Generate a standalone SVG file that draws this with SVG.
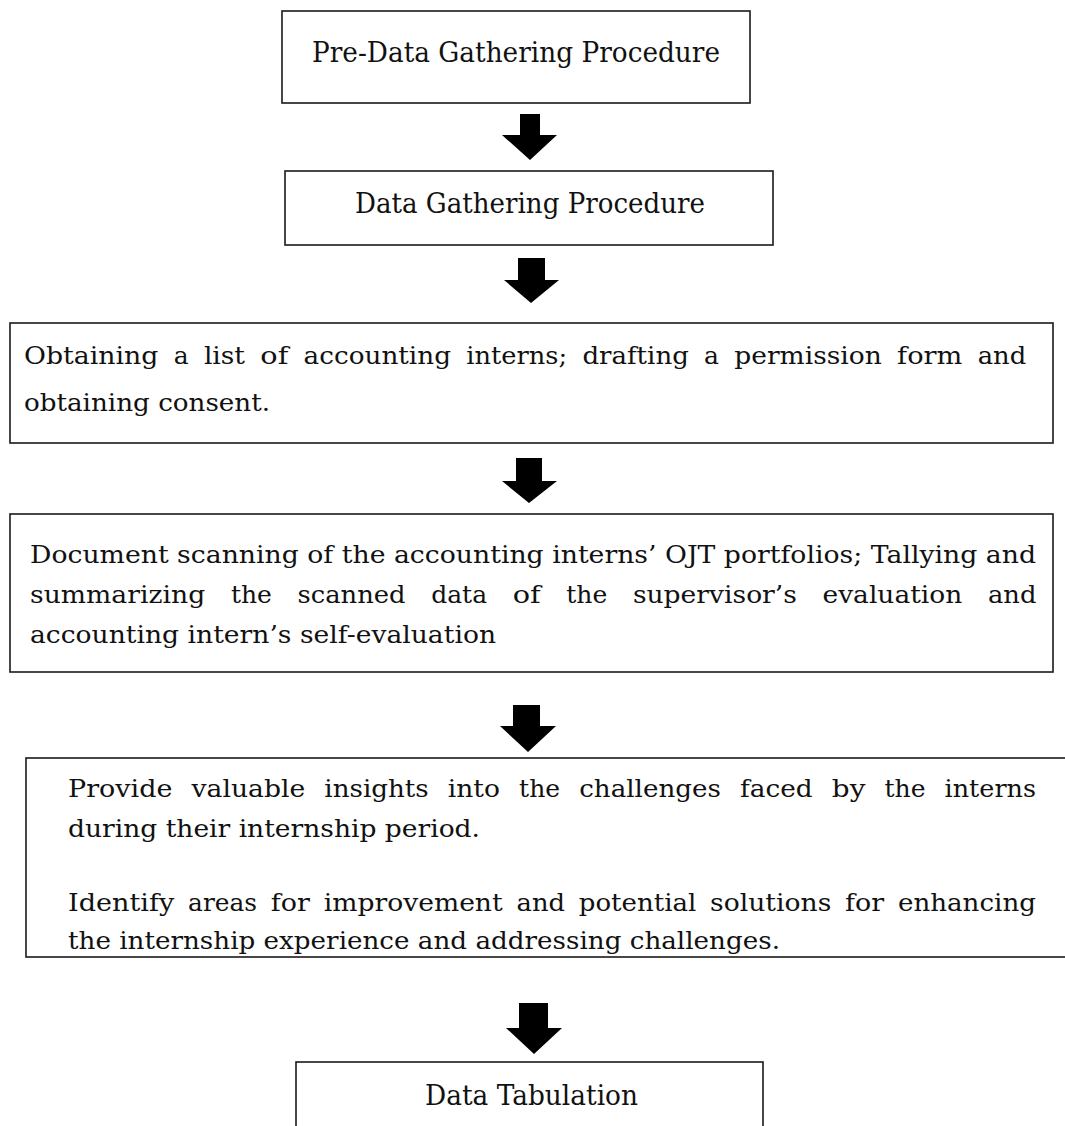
<svg xmlns="http://www.w3.org/2000/svg" width="1065" height="1126" viewBox="0 0 1065 1126">
<style>
.box{fill:#ffffff;stroke:#1a1a1a;stroke-width:1.6}
.t{font-family:"DejaVu Serif","Liberation Serif",serif;fill:#111111}
.title{font-size:27px}
.body{font-size:25px}
.arrow{fill:#000000}
</style>
<rect x="0" y="0" width="1065" height="1126" fill="#ffffff"/>
<g id="node-pre-data">
<rect class="box" x="282" y="11" width="468" height="92"/>
<text class="t title" x="312" y="62" textLength="408" lengthAdjust="spacingAndGlyphs">Pre-Data Gathering Procedure</text>
</g>
<g id="node-data-gathering">
<rect class="box" x="285" y="171" width="488" height="74"/>
<text class="t title" x="355" y="213" textLength="350" lengthAdjust="spacingAndGlyphs">Data Gathering Procedure</text>
</g>
<g id="node-obtaining">
<rect class="box" x="10" y="323" width="1043" height="120"/>
<text class="t body" y="364" lengthAdjust="spacingAndGlyphs"><tspan x="24" textLength="134.4" lengthAdjust="spacingAndGlyphs">Obtaining</tspan> <tspan x="173.7" textLength="14.9" lengthAdjust="spacingAndGlyphs">a</tspan> <tspan x="203.9" textLength="41.1" lengthAdjust="spacingAndGlyphs">list</tspan> <tspan x="260.3" textLength="28" lengthAdjust="spacingAndGlyphs">of</tspan> <tspan x="303.6" textLength="147.4" lengthAdjust="spacingAndGlyphs">accounting</tspan> <tspan x="466.3" textLength="100.8" lengthAdjust="spacingAndGlyphs">interns;</tspan> <tspan x="582.4" textLength="106.4" lengthAdjust="spacingAndGlyphs">drafting</tspan> <tspan x="704.1" textLength="14.9" lengthAdjust="spacingAndGlyphs">a</tspan> <tspan x="734.3" textLength="147.5" lengthAdjust="spacingAndGlyphs">permission</tspan> <tspan x="897.1" textLength="65.3" lengthAdjust="spacingAndGlyphs">form</tspan> <tspan x="977.7" textLength="48.5" lengthAdjust="spacingAndGlyphs">and</tspan></text>
<text class="t body" x="24" y="411" textLength="246" lengthAdjust="spacingAndGlyphs">obtaining consent.</text>
</g>
<g id="node-document-scanning">
<rect class="box" x="10" y="514" width="1043" height="158"/>
<text class="t body" x="30" y="563" textLength="1006" lengthAdjust="spacingAndGlyphs">Document scanning of the accounting interns’ OJT portfolios; Tallying and</text>
<text class="t body" y="603"><tspan x="30" textLength="175.3" lengthAdjust="spacingAndGlyphs">summarizing</tspan> <tspan x="230.9" textLength="41" lengthAdjust="spacingAndGlyphs">the</tspan> <tspan x="297.5" textLength="108.1" lengthAdjust="spacingAndGlyphs">scanned</tspan> <tspan x="431.2" textLength="55.9" lengthAdjust="spacingAndGlyphs">data</tspan> <tspan x="512.7" textLength="28" lengthAdjust="spacingAndGlyphs">of</tspan> <tspan x="566.3" textLength="41" lengthAdjust="spacingAndGlyphs">the</tspan> <tspan x="632.9" textLength="164" lengthAdjust="spacingAndGlyphs">supervisor’s</tspan> <tspan x="822.5" textLength="139.8" lengthAdjust="spacingAndGlyphs">evaluation</tspan> <tspan x="987.9" textLength="48.5" lengthAdjust="spacingAndGlyphs">and</tspan></text>
<text class="t body" x="30" y="643" textLength="466" lengthAdjust="spacingAndGlyphs">accounting intern’s self-evaluation</text>
</g>
<g id="node-insights">
<rect class="box" x="26" y="758" width="1060" height="199"/>
<text class="t body" y="797"><tspan x="68" textLength="104.4" lengthAdjust="spacingAndGlyphs">Provide</tspan> <tspan x="191.5" textLength="113.7" lengthAdjust="spacingAndGlyphs">valuable</tspan> <tspan x="324.3" textLength="104.4" lengthAdjust="spacingAndGlyphs">insights</tspan> <tspan x="447.8" textLength="52.2" lengthAdjust="spacingAndGlyphs">into</tspan> <tspan x="519.1" textLength="41" lengthAdjust="spacingAndGlyphs">the</tspan> <tspan x="579.2" textLength="141.7" lengthAdjust="spacingAndGlyphs">challenges</tspan> <tspan x="740" textLength="72.7" lengthAdjust="spacingAndGlyphs">faced</tspan> <tspan x="831.8" textLength="33.6" lengthAdjust="spacingAndGlyphs">by</tspan> <tspan x="884.5" textLength="41" lengthAdjust="spacingAndGlyphs">the</tspan> <tspan x="944.6" textLength="91.4" lengthAdjust="spacingAndGlyphs">interns</tspan></text>
<text class="t body" x="68" y="837" textLength="412" lengthAdjust="spacingAndGlyphs">during their internship period.</text>
<text class="t body" y="911"><tspan x="68" textLength="106.3" lengthAdjust="spacingAndGlyphs">Identify</tspan> <tspan x="188.1" textLength="68.9" lengthAdjust="spacingAndGlyphs">areas</tspan> <tspan x="270.8" textLength="39.1" lengthAdjust="spacingAndGlyphs">for</tspan> <tspan x="323.7" textLength="179" lengthAdjust="spacingAndGlyphs">improvement</tspan> <tspan x="516.5" textLength="48.5" lengthAdjust="spacingAndGlyphs">and</tspan> <tspan x="578.8" textLength="117.5" lengthAdjust="spacingAndGlyphs">potential</tspan> <tspan x="710.1" textLength="121.2" lengthAdjust="spacingAndGlyphs">solutions</tspan> <tspan x="845.1" textLength="39.1" lengthAdjust="spacingAndGlyphs">for</tspan> <tspan x="898" textLength="137.9" lengthAdjust="spacingAndGlyphs">enhancing</tspan></text>
<text class="t body" x="68" y="949" textLength="712" lengthAdjust="spacingAndGlyphs">the internship experience and addressing challenges.</text>
</g>
<g id="node-data-tabulation">
<rect class="box" x="296" y="1062" width="467" height="90"/>
<text class="t title" x="425" y="1105" textLength="213" lengthAdjust="spacingAndGlyphs">Data Tabulation</text>
</g>
<g id="connectors">
<polygon class="arrow" points="520,114 540,114 540,135 557,135 530,160 502,135 520,135"/>
<polygon class="arrow" points="518,258 545,258 545,280 559,280 531,303 504,280 518,280"/>
<polygon class="arrow" points="516,458 542,458 542,481 557,481 529,503 502,481 516,481"/>
<polygon class="arrow" points="513,705 540,705 540,726 556,726 528,752 500,726 513,726"/>
<polygon class="arrow" points="519,1003 548,1003 548,1028 562,1028 534,1054 506,1028 519,1028"/>
</g>
</svg>
